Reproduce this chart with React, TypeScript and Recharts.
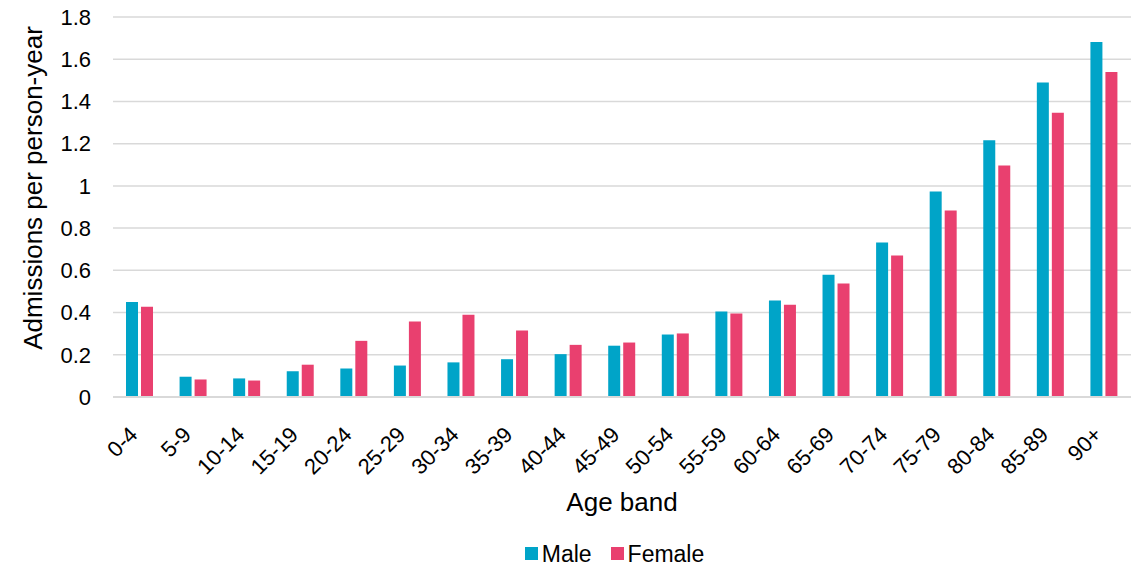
import React from 'react';
import { BarChart, Bar, XAxis, YAxis, CartesianGrid, Legend, Label } from 'recharts';

// Hospital admissions per person-year, by age band and sex
const ageBands = ['0-4', '5-9', '10-14', '15-19', '20-24', '25-29', '30-34', '35-39', '40-44', '45-49', '50-54', '55-59', '60-64', '65-69', '70-74', '75-79', '80-84', '85-89', '90+'];
const maleRates = [0.45, 0.096, 0.088, 0.122, 0.135, 0.149, 0.164, 0.179, 0.203, 0.243, 0.296, 0.405, 0.457, 0.579, 0.732, 0.973, 1.216, 1.49, 1.682];
const femaleRates = [0.427, 0.083, 0.078, 0.153, 0.266, 0.358, 0.39, 0.315, 0.247, 0.258, 0.301, 0.396, 0.437, 0.538, 0.67, 0.883, 1.096, 1.347, 1.54];
const yTicks = [0, 0.2, 0.4, 0.6, 0.8, 1, 1.2, 1.4, 1.6, 1.8];
const seriesOrder = ['Male', 'Female'];

const data = ageBands.map((band, i) => ({ band, male: maleRates[i], female: femaleRates[i] }));

const FONT = '"Liberation Sans", Arial, sans-serif';
const MALE = '#00a4c8';
const FEMALE = '#e9406f';

const AgeTick = (props: any) => {
  const { x, y, payload } = props;
  return (
    <g transform={`translate(${x - 1},${y + 31})`}>
      <text textAnchor="end" transform="rotate(-45)" fontSize={22} fill="#000" fontFamily={FONT}>
        {payload.value}
      </text>
    </g>
  );
};

export default function App() {
  return (
    <div style={{ position: 'absolute', left: 0, top: 0, width: 1133, height: 567, background: '#fff', fontFamily: FONT }}>
      <BarChart
        width={1133}
        height={567}
        data={data}
        margin={{ top: 17, right: 2, left: 0, bottom: 0 }}
        barSize={12}
        barGap={3}
      >
        <CartesianGrid vertical={false} stroke="#d9d9d9" strokeWidth={1.5} />
        <XAxis
          dataKey="band"
          height={140}
          interval={0}
          tickLine={false}
          axisLine={{ stroke: '#d9d9d9', strokeWidth: 2 }}
          tick={<AgeTick />}
        >
          <Label value="Age band" position="insideBottom" offset={26} fontSize={26} fill="#000" fontFamily={FONT} />
        </XAxis>
        <YAxis
          width={113}
          domain={[0, 1.8]}
          ticks={yTicks}
          tickLine={false}
          axisLine={false}
          tickSize={6}
          tickMargin={16}
          tick={{ fontSize: 22, fill: '#000', fontFamily: FONT }}
        >
          <Label
            value="Admissions per person-year"
            angle={-90}
            position="insideLeft"
            offset={33}
            dy={-19}
            fontSize={26}
            fill="#000"
            fontFamily={FONT}
            style={{ textAnchor: 'middle' }}
          />
        </YAxis>
        <Legend
          verticalAlign="bottom"
          iconType="square"
          iconSize={13}
          itemSorter={(item: any) => seriesOrder.indexOf(item.value)}
          formatter={(value) => (
            <span style={{ color: '#000', fontSize: 23, marginRight: value === 'Male' ? 9 : 0, verticalAlign: 'middle' }}>{value}</span>
          )}
          wrapperStyle={{ left: 101, width: 1037, height: 30, lineHeight: '32px', fontFamily: FONT }}
        />
        <Bar dataKey="male" name="Male" fill={MALE} isAnimationActive={false} />
        <Bar dataKey="female" name="Female" fill={FEMALE} isAnimationActive={false} />
      </BarChart>
    </div>
  );
}
